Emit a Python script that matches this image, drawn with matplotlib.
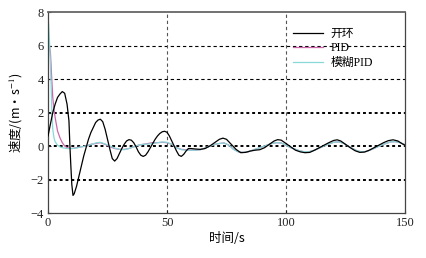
import matplotlib
matplotlib.use("Agg")
import matplotlib.pyplot as plt
import numpy as np

plt.rcParams['font.family'] = ['Liberation Serif', 'Noto Sans CJK SC', 'DejaVu Sans']
plt.rcParams['mathtext.fontset'] = 'stix'

# 开环 (open loop)
t_open = [0, 1, 2, 3, 4, 5, 6, 7, 8, 8.8, 9.2, 9.6, 10.0, 10.5, 11, 12, 13, 14, 15, 16, 17, 18, 19, 20,
          21, 22, 23, 24, 25, 26, 27, 28, 29, 30, 31, 32, 33, 34, 35, 36, 37, 38, 39, 40, 41, 42, 43,
          44, 45, 46, 47, 48, 49, 50, 51, 52, 53, 54, 55, 56, 57, 58, 59, 60, 62, 64, 66, 68, 70, 72,
          73.5, 75, 77, 79, 81, 83, 85, 87, 89, 91, 93, 95, 96.5, 98, 100, 102, 104, 106, 108, 110,
          112, 114, 116, 118, 120, 121.5, 123, 125, 127, 129, 131, 133, 135, 137, 139, 141, 143, 145,
          147, 149, 150]
v_open = [0.6, 1.3, 2.0, 2.5, 2.9, 3.1, 3.25, 3.15, 2.5, 1.5, 0.0, -1.2, -2.3, -2.95, -2.85, -2.4, -1.8,
          -1.2, -0.6, -0.1, 0.4, 0.8, 1.1, 1.4, 1.55, 1.6, 1.45, 1.0, 0.4, -0.2, -0.75, -0.9, -0.75,
          -0.45, -0.15, 0.1, 0.3, 0.38, 0.35, 0.2, -0.05, -0.35, -0.55, -0.62, -0.55, -0.35, -0.1,
          0.15, 0.4, 0.6, 0.75, 0.85, 0.88, 0.82, 0.6, 0.3, 0.0, -0.3, -0.55, -0.62, -0.5, -0.3, -0.15,
          -0.15, -0.18, -0.2, -0.15, 0.0, 0.2, 0.4, 0.47, 0.4, 0.1, -0.2, -0.4, -0.38, -0.3, -0.25,
          -0.22, -0.1, 0.1, 0.3, 0.38, 0.35, 0.15, -0.05, -0.25, -0.35, -0.4, -0.38, -0.25, -0.1, 0.05,
          0.2, 0.33, 0.37, 0.3, 0.1, -0.1, -0.28, -0.38, -0.36, -0.25, -0.1, 0.05, 0.2, 0.32, 0.37,
          0.3, 0.12, 0.05]

# PID
t_pid = [0, 0.5, 1, 1.5, 2, 2.5, 3, 3.5, 4, 5, 6, 7, 8, 10, 12, 14, 16, 18, 20, 22, 24, 26, 28, 30,
         32, 34, 36, 38, 40, 42, 44, 46, 48, 50, 52, 54, 56, 58, 60, 62, 64, 66, 68, 70, 72, 74, 76,
         78, 80, 82, 84, 86, 88, 90, 92, 94, 96, 98, 100, 102, 104, 106, 108, 110, 112, 114, 116,
         118, 120, 122, 124, 126, 128, 130, 132, 134, 136, 138, 140, 142, 144, 146, 148, 150]
v_pid = [6.3, 6.0, 5.6, 4.2, 2.9, 2.2, 1.7, 1.3, 0.9, 0.5, 0.2, 0.0, -0.1, -0.15, -0.1, -0.05, 0.0,
         0.1, 0.15, 0.2, 0.1, -0.05, -0.15, -0.2, -0.2, -0.15, -0.05, 0.05, 0.1, 0.15, 0.2, 0.2,
         0.22, 0.2, 0.1, -0.1, -0.2, -0.22, -0.25, -0.25, -0.22, -0.12, 0.0, 0.1, 0.15, 0.18, 0.05,
         -0.2, -0.35, -0.38, -0.35, -0.25, -0.15, -0.05, 0.05, 0.15, 0.2, 0.18, 0.05, -0.1, -0.2,
         -0.3, -0.35, -0.33, -0.25, -0.12, 0.0, 0.12, 0.22, 0.25, 0.18, 0.0, -0.15, -0.3, -0.35,
         -0.32, -0.2, -0.08, 0.05, 0.15, 0.25, 0.26, 0.2, 0.08]

# 模糊PID (fuzzy PID)
t_fuzzy = [0, 0.3, 0.6, 1.0, 1.3, 1.6, 2.0, 2.5, 3, 4, 5, 6, 8, 10, 12, 14, 16, 18, 20, 22, 24, 26,
           28, 30, 32, 34, 36, 38, 40, 42, 44, 46, 48, 50, 52, 54, 56, 58, 60, 62, 64, 66, 68, 70,
           72, 74, 76, 78, 80, 82, 84, 86, 88, 90, 92, 94, 96, 98, 100, 102, 104, 106, 108, 110,
           112, 114, 116, 118, 120, 122, 124, 126, 128, 130, 132, 134, 136, 138, 140, 142, 144,
           146, 148, 150]
v_fuzzy = [7.7, 7.2, 6.3, 5.0, 3.6, 2.2, 1.0, 0.5, 0.25, 0.05, -0.05, -0.1, -0.15, -0.15, -0.12,
           -0.05, 0.0, 0.08, 0.18, 0.22, 0.12, 0.0, -0.12, -0.2, -0.22, -0.15, -0.05, 0.05, 0.1,
           0.12, 0.15, 0.2, 0.24, 0.22, 0.1, -0.1, -0.22, -0.25, -0.25, -0.25, -0.22, -0.12, 0.0,
           0.1, 0.15, 0.18, 0.05, -0.2, -0.35, -0.38, -0.35, -0.25, -0.15, -0.05, 0.05, 0.15, 0.2,
           0.18, 0.05, -0.1, -0.2, -0.3, -0.35, -0.33, -0.25, -0.12, 0.0, 0.12, 0.22, 0.25, 0.18,
           0.0, -0.15, -0.3, -0.35, -0.32, -0.2, -0.08, 0.05, 0.15, 0.25, 0.26, 0.2, 0.08]

labels = ['开环', 'PID', '模糊PID']
xticks = [0, 50, 100, 150]
yticks = [-4, -2, 0, 2, 4, 6, 8]

fig = plt.figure(figsize=(4.26, 2.58), dpi=100)
ax = fig.add_axes([0.1127, 0.1744, 0.838, 0.779])

# grid lines
for y in [4, 6]:
    ax.axhline(y, color='black', lw=0.8, ls=(0, (3, 2.5)), zorder=1)
for y in [-2, 0, 2]:
    ax.axhline(y, color='black', lw=1.4, ls=(0, (1.5, 1.5)), zorder=1)
for x in [50, 100]:
    ax.axvline(x, color='#555555', lw=0.8, ls=(0, (3, 2.5)), zorder=1)

ax.plot(t_open, v_open, color='black', lw=0.9, label=labels[0], zorder=3)
ax.plot(t_pid, v_pid, color='#cc66aa', lw=0.9, label=labels[1], zorder=2)
ax.plot(t_fuzzy, v_fuzzy, color='#88d8d8', lw=0.9, label=labels[2], zorder=2.5)

ax.set_xlim(0, 150)
ax.set_ylim(-4, 8)
ax.set_xticks(xticks)
ax.set_yticks(yticks)
ax.set_yticklabels(['−4', '−2', '0', '2', '4', '6', '8'])
ax.tick_params(direction='in', length=2, labelsize=9, colors='#222222', pad=3)
for s in ax.spines.values():
    s.set_color('#444444')
    s.set_linewidth(0.9)
ax.spines['top'].set_color('#666666')
ax.spines['top'].set_linewidth(1.3)

ax.set_xlabel('时间/s', fontsize=9, family=['Noto Sans CJK SC', 'DejaVu Sans'], labelpad=2)
ax.set_ylabel('速度/(m·s$^{-1}$)', fontsize=9, family=['Noto Sans CJK SC', 'DejaVu Sans'], labelpad=4)

leg = ax.legend(loc='upper right', frameon=False, handlelength=2.6,
                bbox_to_anchor=(0.94, 0.975), labelspacing=0.22, handletextpad=0.6,
                prop={'family': ['Liberation Serif', 'Noto Sans CJK SC'], 'size': 8.5})

fig.savefig('out.png', dpi=100)
